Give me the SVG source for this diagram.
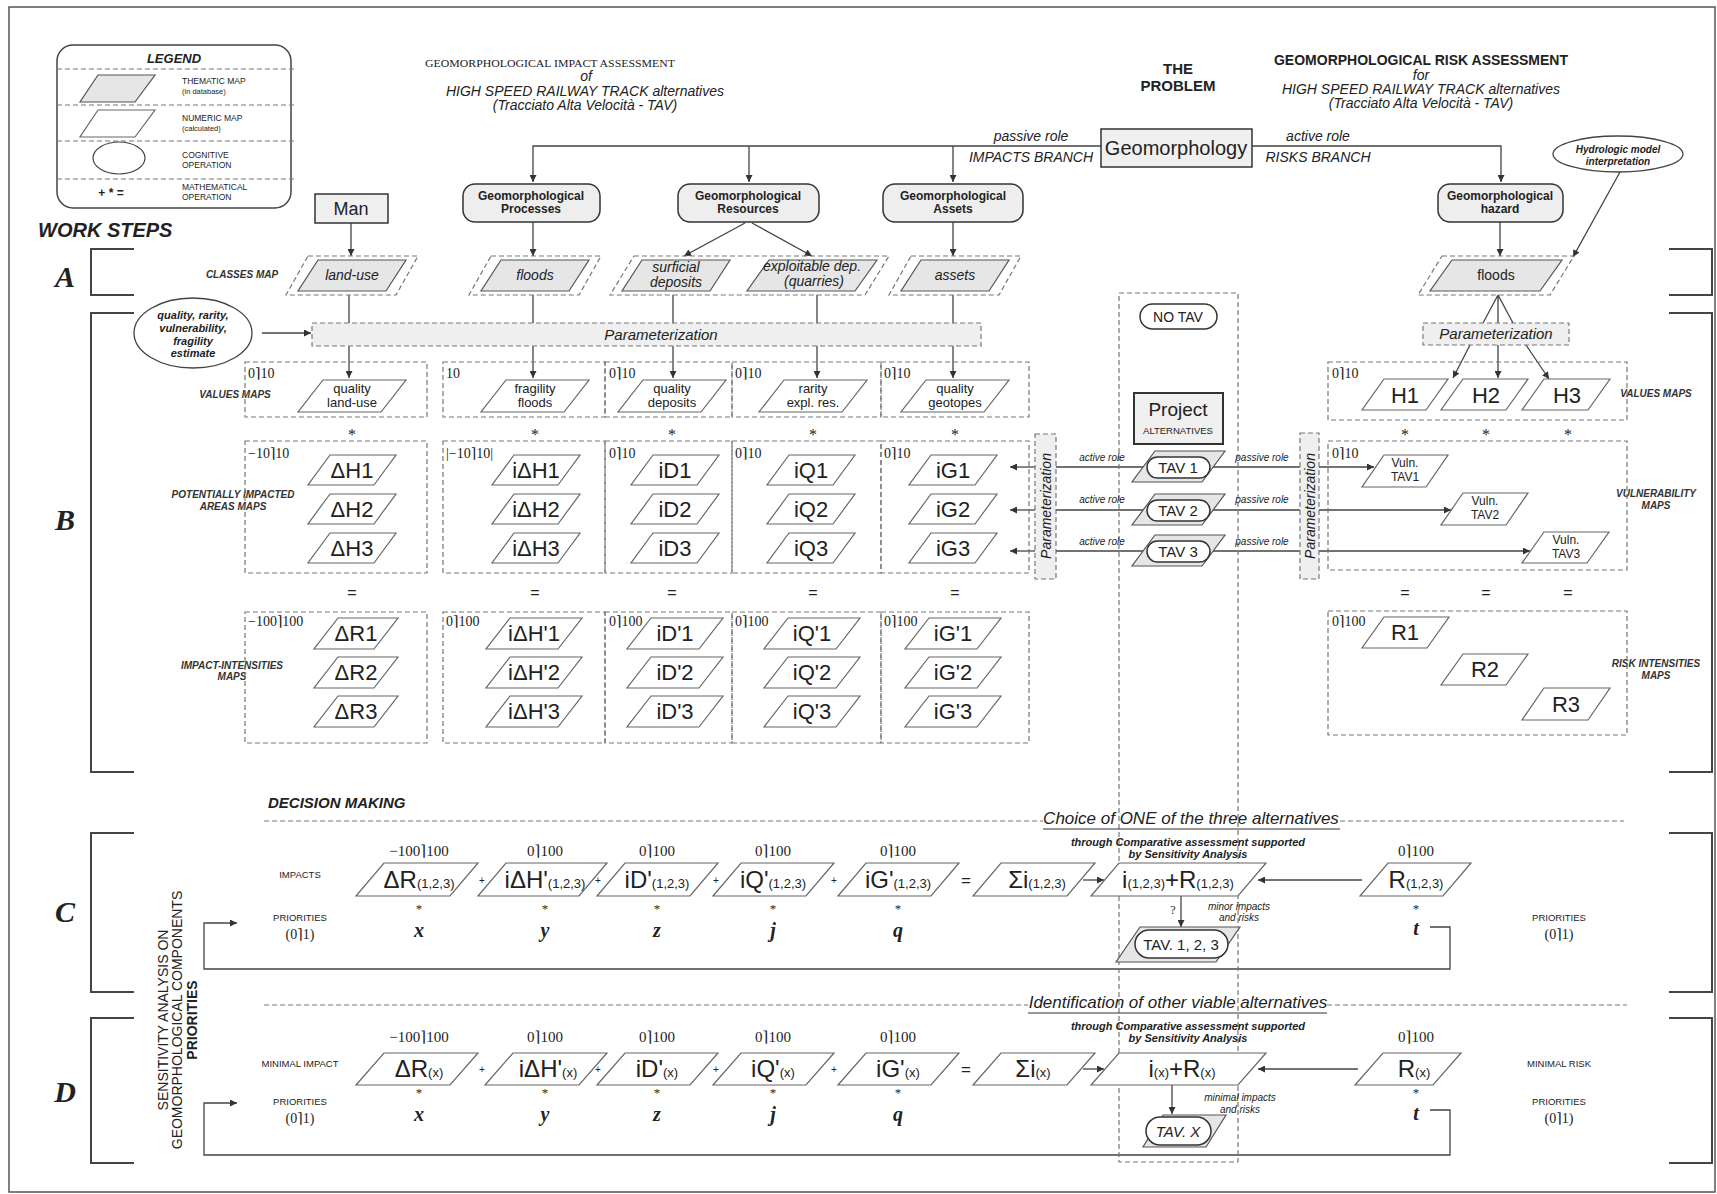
<svg xmlns="http://www.w3.org/2000/svg" width="1717" height="1194" viewBox="0 0 1717 1194">
<defs>
<style>
.s{font-family:"Liberation Sans",Arial,sans-serif;fill:#222}
.sf{font-family:"Liberation Serif","Times New Roman","DejaVu Serif",serif;fill:#222}
.i{font-style:italic}
.b{font-weight:bold}
.m{text-anchor:middle}
.pw{fill:#fff;stroke:#666;stroke-width:1.2}
.pg{fill:#e6e6e6;stroke:#555;stroke-width:1.2}
.dsh{fill:none;stroke:#777;stroke-width:1.2;stroke-dasharray:5 3}
.dshf{fill:#efefef;stroke:#777;stroke-width:1.2;stroke-dasharray:5 3}
.ln{fill:none;stroke:#444;stroke-width:1.3}
.br{fill:none;stroke:#444;stroke-width:2}
.nb{fill:#eeeeee;stroke:#333;stroke-width:1.5}
.lab{font-family:"Liberation Sans",Arial,sans-serif;font-weight:bold;font-style:italic;font-size:10px;fill:#333;text-anchor:middle}
.rng{font-family:"Liberation Serif","Times New Roman","DejaVu Serif",serif;font-size:14px;fill:#222}
.big{font-family:"Liberation Sans",Arial,sans-serif;font-size:22px;fill:#222;text-anchor:middle}
</style>
<marker id="a" viewBox="0 0 10 10" refX="10" refY="5" markerWidth="9" markerHeight="7" orient="auto" markerUnits="userSpaceOnUse"><path d="M0,0 L10,5 L0,10 z" fill="#333"/></marker>
</defs>
<rect x="0" y="0" width="1717" height="1194" fill="#fff"/>
<rect x="9" y="7" width="1706" height="1185" fill="none" stroke="#555" stroke-width="1.5"/>

<!-- Legend -->
<g id="legend">
<rect x="57" y="45" width="234" height="163" rx="16" fill="#fff" stroke="#444" stroke-width="1.5"/>
<text x="174" y="63" class="s b i m" font-size="13">LEGEND</text>
<path d="M57,69H295M57,105H295M57,141H295M57,179H295" class="dsh"/>
<polygon points="98,75 155,75 135,102 80,102" class="pg"/>
<text x="182" y="84" class="s" font-size="8.5">THEMATIC MAP</text>
<text x="182" y="94" class="s" font-size="7.5">(in database)</text>
<polygon points="98,110 155,110 135,137 80,137" class="pw"/>
<text x="182" y="121" class="s" font-size="8.5">NUMERIC MAP</text>
<text x="182" y="131" class="s" font-size="7.5">(calculated)</text>
<ellipse cx="119" cy="158" rx="26" ry="16" fill="#fff" stroke="#444" stroke-width="1.2"/>
<text x="182" y="158" class="s" font-size="8.5">COGNITIVE</text>
<text x="182" y="168" class="s" font-size="8.5">OPERATION</text>
<text x="111" y="197" class="s b m" font-size="12">+  *  =</text>
<text x="182" y="190" class="s" font-size="8.5">MATHEMATICAL</text>
<text x="182" y="200" class="s" font-size="8.5">OPERATION</text>
</g>

<!-- Titles -->
<g id="titles">
<text x="425" y="67" class="sf" font-size="11" textLength="250" lengthAdjust="spacingAndGlyphs">GEOMORPHOLOGICAL IMPACT ASSESSMENT</text>
<text x="586" y="81" class="s i m" font-size="14">of</text>
<text x="585" y="96" class="s i m" font-size="14">HIGH SPEED RAILWAY TRACK alternatives</text>
<text x="585" y="110" class="s i m" font-size="14">(Tracciato Alta Velocità - TAV)</text>
<text x="1178" y="74" class="s b m" font-size="15">THE</text>
<text x="1178" y="91" class="s b m" font-size="15">PROBLEM</text>
<text x="1421" y="65" class="s b m" font-size="14">GEOMORPHOLOGICAL RISK ASSESSMENT</text>
<text x="1421" y="80" class="s i m" font-size="14">for</text>
<text x="1421" y="94" class="s i m" font-size="14">HIGH SPEED RAILWAY TRACK alternatives</text>
<text x="1421" y="108" class="s i m" font-size="14">(Tracciato Alta Velocità - TAV)</text>
<text x="38" y="237" class="s b i" font-size="20">WORK STEPS</text>
<text x="242" y="278" class="lab">CLASSES MAP</text>
<text x="235" y="398" class="lab">VALUES MAPS</text>
<text x="233" y="498" class="lab">POTENTIALLY IMPACTED</text>
<text x="233" y="510" class="lab">AREAS MAPS</text>
<text x="232" y="669" class="lab">IMPACT-INTENSITIES</text>
<text x="232" y="680" class="lab">MAPS</text>
<text x="1656" y="397" class="lab">VALUES MAPS</text>
<text x="1656" y="497" class="lab">VULNERABILITY</text>
<text x="1656" y="509" class="lab">MAPS</text>
<text x="1656" y="667" class="lab">RISK INTENSITIES</text>
<text x="1656" y="679" class="lab">MAPS</text>
<text x="268" y="808" class="s b i" font-size="15">DECISION MAKING</text>
</g>

<!-- Step letters and brackets -->
<g id="steps">
<text x="65" y="287" class="sf b i m" font-size="30">A</text>
<text x="65" y="530" class="sf b i m" font-size="30">B</text>
<text x="65" y="922" class="sf b i m" font-size="30">C</text>
<text x="65" y="1102" class="sf b i m" font-size="30">D</text>
<path class="br" d="M134,249H91V295H134M134,313H91V772H134M134,833H91V992H134M134,1018H91V1163H134"/>
<path class="br" d="M1669,249H1712V295H1669M1669,313H1712V772H1669M1669,833H1712V992H1669M1669,1018H1712V1163H1669"/>
<text transform="translate(168,1020) rotate(-90)" class="s m" font-size="14">SENSITIVITY ANALYSIS ON</text>
<text transform="translate(182,1020) rotate(-90)" class="s m" font-size="14">GEOMORPHOLOGICAL COMPONENTS</text>
<text transform="translate(197,1020) rotate(-90)" class="s b m" font-size="14">PRIORITIES</text>
</g>

<!-- Connectors -->
<g id="connectors" class="ln">
<path d="M1101,146H533V182" marker-end="url(#a)"/>
<path d="M749,146V182" marker-end="url(#a)"/>
<path d="M953,146V182" marker-end="url(#a)"/>
<path d="M1252,146H1501V182" marker-end="url(#a)"/>
<path d="M351,223V256" marker-end="url(#a)"/>
<path d="M533,222V256" marker-end="url(#a)"/>
<path d="M745,223L684,256" marker-end="url(#a)"/>
<path d="M752,223L812,256" marker-end="url(#a)"/>
<path d="M953,222V256" marker-end="url(#a)"/>
<path d="M1500,222V256" marker-end="url(#a)"/>
<path d="M1620,172L1573,257" marker-end="url(#a)"/>
<path d="M349,295V323M533,295V323M673,295V323M817,295V323M953,295V323"/>
<path d="M349,346V378" marker-end="url(#a)"/>
<path d="M533,346V378" marker-end="url(#a)"/>
<path d="M673,346V378" marker-end="url(#a)"/>
<path d="M817,346V378" marker-end="url(#a)"/>
<path d="M953,346V378" marker-end="url(#a)"/>
<path d="M262,333H311" marker-end="url(#a)"/>
<path d="M1498,295L1483,323M1498,295V323M1498,295L1513,323"/>
<path d="M1470,345L1453,378" marker-end="url(#a)"/>
<path d="M1498,345V378" marker-end="url(#a)"/>
<path d="M1526,345L1549,379" marker-end="url(#a)"/>
<path d="M1147,467H1056M1147,510H1056M1147,551H1056"/>
<path d="M1035,467H1010" marker-end="url(#a)"/>
<path d="M1035,510H1010" marker-end="url(#a)"/>
<path d="M1035,551H1010" marker-end="url(#a)"/>
<path d="M1210,467H1300M1210,510H1300M1210,551H1300"/>
<path d="M1319,467H1374" marker-end="url(#a)"/>
<path d="M1319,510H1451" marker-end="url(#a)"/>
<path d="M1319,551H1530" marker-end="url(#a)"/>
<path d="M1083,880H1104" marker-end="url(#a)"/>
<path d="M1362,880H1258" marker-end="url(#a)"/>
<path d="M1181,896V927" marker-end="url(#a)"/>
<path d="M1430,927H1450V969H204V923H237" marker-end="url(#a)"/>
<path d="M1083,1069H1104" marker-end="url(#a)"/>
<path d="M1358,1069H1258" marker-end="url(#a)"/>
<path d="M1172,1085V1114" marker-end="url(#a)"/>
<path d="M1430,1110H1450V1155H204V1103H237" marker-end="url(#a)"/>
</g>

<!-- Top nodes -->
<g id="geomorphology"><rect x="1101" y="129" width="151" height="38" fill="#f0f0f0" stroke="#333" stroke-width="1.5"/><text x="1176" y="155" class="s m" font-size="20">Geomorphology</text></g>
<g id="branch-labels">
<text x="1031" y="141" class="s i m" font-size="14">passive role</text>
<text x="1031" y="162" class="s i m" font-size="14">IMPACTS BRANCH</text>
<text x="1318" y="141" class="s i m" font-size="14">active role</text>
<text x="1318" y="162" class="s i m" font-size="14">RISKS BRANCH</text>
</g>
<g id="man"><rect x="315" y="194" width="73" height="29" fill="#f0f0f0" stroke="#333" stroke-width="1.5"/><text x="351" y="215" class="s m" font-size="18">Man</text></g>
<g id="processes"><rect x="463" y="184" width="137" height="38" rx="12" class="nb"/><text x="531" y="200" class="s b m" font-size="12">Geomorphological</text><text x="531" y="213" class="s b m" font-size="12">Processes</text></g>
<g id="resources"><rect x="678" y="184" width="141" height="38" rx="12" class="nb"/><text x="748" y="200" class="s b m" font-size="12">Geomorphological</text><text x="748" y="213" class="s b m" font-size="12">Resources</text></g>
<g id="assets"><rect x="883" y="184" width="140" height="38" rx="12" class="nb"/><text x="953" y="200" class="s b m" font-size="12">Geomorphological</text><text x="953" y="213" class="s b m" font-size="12">Assets</text></g>
<g id="hazard"><rect x="1438" y="184" width="125" height="38" rx="12" class="nb"/><text x="1500" y="200" class="s b m" font-size="12">Geomorphological</text><text x="1500" y="213" class="s b m" font-size="12">hazard</text></g>
<g id="hydrologic"><ellipse cx="1618" cy="154" rx="65" ry="18" fill="#fff" stroke="#444" stroke-width="1.3"/><text x="1618" y="153" class="s b i m" font-size="10">Hydrologic model</text><text x="1618" y="165" class="s b i m" font-size="10">interpretation</text></g>

<!-- Classes maps -->
<g id="cm-landuse"><polygon points="308,256 418,256 396,295 286,295" class="dsh"/><polygon points="318,260 406,260 386,291 298,291" class="pg"/><text x="352" y="280" class="s i m" font-size="14">land-use</text></g>
<g id="cm-floods"><polygon points="491,256 601,256 579,295 469,295" class="dsh"/><polygon points="501,260 589,260 569,291 481,291" class="pg"/><text x="535" y="280" class="s i m" font-size="14">floods</text></g>
<g id="cm-deposits"><polygon points="634,256 889,256 865,295 610,295" class="dsh"/><polygon points="642,260 730,260 710,291 622,291" class="pg"/><text x="676" y="272" class="s i m" font-size="14">surficial</text><text x="676" y="287" class="s i m" font-size="14">deposits</text><polygon points="769,260 877,260 855,291 747,291" class="pg"/><text x="812" y="271" class="s i m" font-size="14">exploitable dep.</text><text x="814" y="286" class="s i m" font-size="14">(quarries)</text></g>
<g id="cm-assets"><polygon points="911,256 1021,256 999,295 889,295" class="dsh"/><polygon points="921,260 1009,260 989,291 901,291" class="pg"/><text x="955" y="280" class="s i m" font-size="14">assets</text></g>
<g id="cm-riskfloods"><polygon points="1442,256 1574,256 1550,295 1418,295" class="dsh"/><polygon points="1452,260 1562,260 1540,291 1430,291" class="pg"/><text x="1496" y="280" class="s m" font-size="14">floods</text></g>

<!-- Parameterization -->
<g id="estimate"><ellipse cx="193" cy="333" rx="59" ry="35" fill="#fff" stroke="#444" stroke-width="1.3"/><text x="193" y="319" class="s b i m" font-size="11">quality, rarity,</text><text x="193" y="332" class="s b i m" font-size="11">vulnerability,</text><text x="193" y="345" class="s b i m" font-size="11">fragility</text><text x="193" y="357" class="s b i m" font-size="11">estimate</text></g>
<g id="param-impacts"><rect x="312" y="323" width="669" height="23" class="dshf"/><text x="661" y="340" class="s i m" font-size="15">Parameterization</text></g>
<g id="param-risks"><rect x="1423" y="323" width="146" height="22" class="dshf"/><text x="1496" y="339" class="s i m" font-size="15">Parameterization</text></g>
<g id="param-active"><rect x="1035" y="434" width="21" height="145" class="dshf"/><text transform="translate(1051,506) rotate(-90)" class="s i m" font-size="14">Parameterization</text></g>
<g id="param-passive"><rect x="1300" y="433" width="19" height="146" class="dshf"/><text transform="translate(1315,506) rotate(-90)" class="s i m" font-size="14">Parameterization</text></g>

<!-- Impact side boxes -->
<g id="boxes" class="dsh">
<rect x="245" y="362" width="182" height="55"/><rect x="443" y="362" width="162" height="55"/><rect x="605" y="362" width="127" height="55"/><rect x="732" y="362" width="149" height="55"/><rect x="881" y="362" width="148" height="55"/>
<rect x="245" y="441" width="182" height="132"/><rect x="443" y="441" width="162" height="132"/><rect x="605" y="441" width="127" height="132"/><rect x="732" y="441" width="149" height="132"/><rect x="881" y="441" width="148" height="132"/>
<rect x="245" y="612" width="182" height="131"/><rect x="443" y="612" width="162" height="131"/><rect x="605" y="612" width="127" height="131"/><rect x="732" y="612" width="149" height="131"/><rect x="881" y="612" width="148" height="131"/>
<rect x="1328" y="362" width="299" height="58"/><rect x="1328" y="441" width="299" height="129"/><rect x="1328" y="611" width="299" height="124"/>
<rect x="1119" y="293" width="119" height="869"/>
</g>
<g id="ranges">
<text x="248" y="378" class="rng">0⌉10</text><text x="446" y="378" class="rng">10</text><text x="609" y="378" class="rng">0⌉10</text><text x="735" y="378" class="rng">0⌉10</text><text x="884" y="378" class="rng">0⌉10</text>
<text x="248" y="458" class="rng">−10⌉10</text><text x="446" y="458" class="rng">|−10⌉10|</text><text x="609" y="458" class="rng">0⌉10</text><text x="735" y="458" class="rng">0⌉10</text><text x="884" y="458" class="rng">0⌉10</text>
<text x="248" y="626" class="rng">−100⌉100</text><text x="446" y="626" class="rng">0⌉100</text><text x="609" y="626" class="rng">0⌉100</text><text x="735" y="626" class="rng">0⌉100</text><text x="884" y="626" class="rng">0⌉100</text>
<text x="1332" y="378" class="rng">0⌉10</text><text x="1332" y="458" class="rng">0⌉10</text><text x="1332" y="626" class="rng">0⌉100</text>
</g>
<g id="ops" class="sf m" font-size="16">
<text x="352" y="440" class="sf m">*</text><text x="535" y="440" class="sf m">*</text><text x="672" y="440" class="sf m">*</text><text x="813" y="440" class="sf m">*</text><text x="955" y="440" class="sf m">*</text>
<text x="1405" y="440" class="sf m">*</text><text x="1486" y="440" class="sf m">*</text><text x="1568" y="440" class="sf m">*</text>
<text x="352" y="598" class="s m">=</text><text x="535" y="598" class="s m">=</text><text x="672" y="598" class="s m">=</text><text x="813" y="598" class="s m">=</text><text x="955" y="598" class="s m">=</text>
<text x="1405" y="598" class="s m">=</text><text x="1486" y="598" class="s m">=</text><text x="1568" y="598" class="s m">=</text>
</g>

<!-- Values maps -->
<g id="v-landuse"><polygon points="323,380 406,380 381,412 298,412" class="pw"/><text x="352" y="393" class="s m" font-size="13">quality</text><text x="352" y="407" class="s m" font-size="13">land-use</text></g>
<g id="v-floods"><polygon points="506,380 589,380 564,412 481,412" class="pw"/><text x="535" y="393" class="s m" font-size="13">fragility</text><text x="535" y="407" class="s m" font-size="13">floods</text></g>
<g id="v-deposits"><polygon points="643,380 726,380 701,412 618,412" class="pw"/><text x="672" y="393" class="s m" font-size="13">quality</text><text x="672" y="407" class="s m" font-size="13">deposits</text></g>
<g id="v-rarity"><polygon points="784,380 867,380 842,412 759,412" class="pw"/><text x="813" y="393" class="s m" font-size="13">rarity</text><text x="813" y="407" class="s m" font-size="13">expl. res.</text></g>
<g id="v-geotopes"><polygon points="926,380 1009,380 984,412 901,412" class="pw"/><text x="955" y="393" class="s m" font-size="13">quality</text><text x="955" y="407" class="s m" font-size="13">geotopes</text></g>
<g id="v-H1"><polygon points="1384,379 1448,379 1426,410 1362,410" class="pw"/><text x="1405" y="403" class="big">H1</text></g>
<g id="v-H2"><polygon points="1463,379 1528,379 1506,410 1441,410" class="pw"/><text x="1486" y="403" class="big">H2</text></g>
<g id="v-H3"><polygon points="1544,379 1610,379 1588,410 1522,410" class="pw"/><text x="1567" y="403" class="big">H3</text></g>

<!-- Potentially impacted -->
<g id="pi-col1">
<polygon points="330,455 396,455 374,485 308,485" class="pw"/><text x="352" y="478" class="big">ΔH1</text>
<polygon points="330,494 396,494 374,524 308,524" class="pw"/><text x="352" y="517" class="big">ΔH2</text>
<polygon points="330,533 396,533 374,563 308,563" class="pw"/><text x="352" y="556" class="big">ΔH3</text>
</g>
<g id="pi-col2">
<polygon points="514,455 580,455 558,485 492,485" class="pw"/><text x="536" y="478" class="big">iΔH1</text>
<polygon points="514,494 580,494 558,524 492,524" class="pw"/><text x="536" y="517" class="big">iΔH2</text>
<polygon points="514,533 580,533 558,563 492,563" class="pw"/><text x="536" y="556" class="big">iΔH3</text>
</g>
<g id="pi-col3">
<polygon points="653,455 719,455 697,485 631,485" class="pw"/><text x="675" y="478" class="big">iD1</text>
<polygon points="653,494 719,494 697,524 631,524" class="pw"/><text x="675" y="517" class="big">iD2</text>
<polygon points="653,533 719,533 697,563 631,563" class="pw"/><text x="675" y="556" class="big">iD3</text>
</g>
<g id="pi-col4">
<polygon points="789,455 855,455 833,485 767,485" class="pw"/><text x="811" y="478" class="big">iQ1</text>
<polygon points="789,494 855,494 833,524 767,524" class="pw"/><text x="811" y="517" class="big">iQ2</text>
<polygon points="789,533 855,533 833,563 767,563" class="pw"/><text x="811" y="556" class="big">iQ3</text>
</g>
<g id="pi-col5">
<polygon points="931,455 997,455 975,485 909,485" class="pw"/><text x="953" y="478" class="big">iG1</text>
<polygon points="931,494 997,494 975,524 909,524" class="pw"/><text x="953" y="517" class="big">iG2</text>
<polygon points="931,533 997,533 975,563 909,563" class="pw"/><text x="953" y="556" class="big">iG3</text>
</g>

<!-- Vulnerability -->
<g id="vuln1"><polygon points="1384,455 1448,455 1426,487 1362,487" class="pw"/><text x="1405" y="467" class="s m" font-size="12">Vuln.</text><text x="1405" y="481" class="s m" font-size="12">TAV1</text></g>
<g id="vuln2"><polygon points="1463,493 1528,493 1506,525 1441,525" class="pw"/><text x="1485" y="505" class="s m" font-size="12">Vuln.</text><text x="1485" y="519" class="s m" font-size="12">TAV2</text></g>
<g id="vuln3"><polygon points="1544,532 1609,532 1587,563 1522,563" class="pw"/><text x="1566" y="544" class="s m" font-size="12">Vuln.</text><text x="1566" y="558" class="s m" font-size="12">TAV3</text></g>

<!-- Impact intensities -->
<g id="ii-col1">
<polygon points="338,618 398,618 374,649 314,649" class="pw"/><text x="356" y="641" class="big">ΔR1</text>
<polygon points="338,657 398,657 374,688 314,688" class="pw"/><text x="356" y="680" class="big">ΔR2</text>
<polygon points="338,696 398,696 374,727 314,727" class="pw"/><text x="356" y="719" class="big">ΔR3</text>
</g>
<g id="ii-col2">
<polygon points="510,618 582,618 558,649 486,649" class="pw"/><text x="534" y="641" class="big">iΔH'1</text>
<polygon points="510,657 582,657 558,688 486,688" class="pw"/><text x="534" y="680" class="big">iΔH'2</text>
<polygon points="510,696 582,696 558,727 486,727" class="pw"/><text x="534" y="719" class="big">iΔH'3</text>
</g>
<g id="ii-col3">
<polygon points="651,618 723,618 699,649 627,649" class="pw"/><text x="675" y="641" class="big">iD'1</text>
<polygon points="651,657 723,657 699,688 627,688" class="pw"/><text x="675" y="680" class="big">iD'2</text>
<polygon points="651,696 723,696 699,727 627,727" class="pw"/><text x="675" y="719" class="big">iD'3</text>
</g>
<g id="ii-col4">
<polygon points="788,618 860,618 836,649 764,649" class="pw"/><text x="812" y="641" class="big">iQ'1</text>
<polygon points="788,657 860,657 836,688 764,688" class="pw"/><text x="812" y="680" class="big">iQ'2</text>
<polygon points="788,696 860,696 836,727 764,727" class="pw"/><text x="812" y="719" class="big">iQ'3</text>
</g>
<g id="ii-col5">
<polygon points="929,618 1001,618 977,649 905,649" class="pw"/><text x="953" y="641" class="big">iG'1</text>
<polygon points="929,657 1001,657 977,688 905,688" class="pw"/><text x="953" y="680" class="big">iG'2</text>
<polygon points="929,696 1001,696 977,727 905,727" class="pw"/><text x="953" y="719" class="big">iG'3</text>
</g>
<g id="risk-int">
<polygon points="1384,617 1449,617 1427,648 1362,648" class="pw"/><text x="1405" y="640" class="big">R1</text>
<polygon points="1463,654 1528,654 1506,685 1441,685" class="pw"/><text x="1485" y="677" class="big">R2</text>
<polygon points="1544,688 1610,688 1588,720 1522,720" class="pw"/><text x="1566" y="712" class="big">R3</text>
</g>

<!-- Project alternatives -->
<g id="notav"><rect x="1140" y="304" width="77" height="25" rx="12.5" fill="#fff" stroke="#333" stroke-width="1.5"/><text x="1178" y="322" class="s m" font-size="14">NO TAV</text></g>
<g id="project"><rect x="1134" y="393" width="89" height="51" fill="#f0f0f0" stroke="#333" stroke-width="2"/><text x="1178" y="416" class="s m" font-size="19">Project</text><text x="1178" y="434" class="s m" font-size="9.5">ALTERNATIVES</text></g>
<g id="tav1"><polygon points="1155,451 1225,451 1202,482 1132,482" class="pg"/><rect x="1147" y="457" width="63" height="21" rx="10.5" fill="#fff" stroke="#333" stroke-width="1.5"/><text x="1178" y="473" class="s m" font-size="15">TAV 1</text></g>
<g id="tav2"><polygon points="1155,494 1225,494 1202,525 1132,525" class="pg"/><rect x="1147" y="500" width="63" height="21" rx="10.5" fill="#fff" stroke="#333" stroke-width="1.5"/><text x="1178" y="516" class="s m" font-size="15">TAV 2</text></g>
<g id="tav3"><polygon points="1155,535 1225,535 1202,566 1132,566" class="pg"/><rect x="1147" y="541" width="63" height="21" rx="10.5" fill="#fff" stroke="#333" stroke-width="1.5"/><text x="1178" y="557" class="s m" font-size="15">TAV 3</text></g>
<g id="role-labels">
<text x="1102" y="461" class="s i m" font-size="10">active role</text><text x="1102" y="503" class="s i m" font-size="10">active role</text><text x="1102" y="545" class="s i m" font-size="10">active role</text>
<text x="1262" y="461" class="s i m" font-size="10">passive role</text><text x="1262" y="503" class="s i m" font-size="10">passive role</text><text x="1262" y="545" class="s i m" font-size="10">passive role</text>
</g>

<!-- Decision making C -->
<g id="choice">
<path d="M264,821H1043M1340,821H1624" class="dsh"/>
<text x="1191" y="824" class="s i m" font-size="17">Choice of ONE of the three alternatives</text>
<path d="M1043,829H1340" stroke="#333" stroke-width="1.2"/>
<text x="1188" y="846" class="s b i m" font-size="11">through Comparative assessment supported</text>
<text x="1188" y="858" class="s b i m" font-size="11">by Sensitivity Analysis</text>
</g>
<g id="c-labels">
<text x="300" y="878" class="s m" font-size="9.5">IMPACTS</text>
<text x="300" y="921" class="s m" font-size="9.5">PRIORITIES</text><text x="300" y="939" class="sf m" font-size="14">(0⌉1)</text>
<text x="1559" y="921" class="s m" font-size="9.5">PRIORITIES</text><text x="1559" y="939" class="sf m" font-size="14">(0⌉1)</text>
<text x="419" y="856" class="sf m" font-size="15">−100⌉100</text><text x="545" y="856" class="sf m" font-size="15">0⌉100</text><text x="657" y="856" class="sf m" font-size="15">0⌉100</text><text x="773" y="856" class="sf m" font-size="15">0⌉100</text><text x="898" y="856" class="sf m" font-size="15">0⌉100</text><text x="1416" y="856" class="sf m" font-size="15">0⌉100</text>
<text x="419" y="913" class="sf m" font-size="13">*</text><text x="545" y="913" class="sf m" font-size="13">*</text><text x="657" y="913" class="sf m" font-size="13">*</text><text x="773" y="913" class="sf m" font-size="13">*</text><text x="898" y="913" class="sf m" font-size="13">*</text><text x="1416" y="913" class="sf m" font-size="13">*</text>
<text x="419" y="937" class="sf b i m" font-size="20">x</text><text x="545" y="937" class="sf b i m" font-size="20">y</text><text x="657" y="937" class="sf b i m" font-size="20">z</text><text x="773" y="937" class="sf b i m" font-size="20">j</text><text x="898" y="937" class="sf b i m" font-size="20">q</text><text x="1416" y="935" class="sf b i m" font-size="20">t</text>
<text x="482" y="884" class="s m" font-size="10">+</text><text x="598" y="884" class="s m" font-size="10">+</text><text x="716" y="884" class="s m" font-size="10">+</text><text x="834" y="884" class="s m" font-size="10">+</text><text x="966" y="886" class="s m" font-size="17">=</text>
<text x="1173" y="914" class="sf m" font-size="12">?</text>
<text x="1239" y="910" class="s i m" font-size="10">minor impacts</text><text x="1239" y="921" class="s i m" font-size="10">and risks</text>
</g>
<g id="c-dR"><polygon points="384,863 478,863 450,896 356,896" class="pw"/><text x="419" y="888" class="s m" font-size="24">ΔR<tspan font-size="13">(1,2,3)</tspan></text></g>
<g id="c-iDH"><polygon points="506,863 607,863 579,896 478,896" class="pw"/><text x="545" y="888" class="s m" font-size="24">iΔH'<tspan font-size="13">(1,2,3)</tspan></text></g>
<g id="c-iD"><polygon points="625,863 718,863 690,896 597,896" class="pw"/><text x="657" y="888" class="s m" font-size="24">iD'<tspan font-size="13">(1,2,3)</tspan></text></g>
<g id="c-iQ"><polygon points="741,863 834,863 806,896 713,896" class="pw"/><text x="773" y="888" class="s m" font-size="24">iQ'<tspan font-size="13">(1,2,3)</tspan></text></g>
<g id="c-iG"><polygon points="866,863 959,863 931,896 838,896" class="pw"/><text x="898" y="888" class="s m" font-size="24">iG'<tspan font-size="13">(1,2,3)</tspan></text></g>
<g id="c-sum"><polygon points="1001,863 1095,863 1067,896 973,896" class="pw"/><text x="1037" y="888" class="s m" font-size="24">Σi<tspan font-size="13">(1,2,3)</tspan></text></g>
<g id="c-iR"><polygon points="1119,863 1266,863 1238,896 1091,896" class="pw"/><text x="1178" y="888" class="s m" font-size="24">i<tspan font-size="13">(1,2,3)</tspan>+R<tspan font-size="13">(1,2,3)</tspan></text></g>
<g id="c-R"><polygon points="1388,863 1471,863 1443,896 1360,896" class="pw"/><text x="1416" y="888" class="s m" font-size="24">R<tspan font-size="13">(1,2,3)</tspan></text></g>
<g id="c-tav"><polygon points="1140,927 1240,927 1216,962 1116,962" class="pg"/><rect x="1135" y="930" width="93" height="28" rx="14" fill="#fff" stroke="#333" stroke-width="1.5"/><text x="1181" y="950" class="s m" font-size="15">TAV. 1, 2, 3</text></g>

<!-- Decision making D -->
<g id="identification">
<path d="M264,1005H1028M1327,1005H1627" class="dsh"/>
<text x="1178" y="1008" class="s i m" font-size="17">Identification of other viable alternatives</text>
<path d="M1028,1013H1327" stroke="#333" stroke-width="1.2"/>
<text x="1188" y="1030" class="s b i m" font-size="11">through Comparative assessment supported</text>
<text x="1188" y="1042" class="s b i m" font-size="11">by Sensitivity Analysis</text>
</g>
<g id="d-labels">
<text x="300" y="1067" class="s m" font-size="9.5">MINIMAL IMPACT</text>
<text x="300" y="1105" class="s m" font-size="9.5">PRIORITIES</text><text x="300" y="1123" class="sf m" font-size="14">(0⌉1)</text>
<text x="1559" y="1067" class="s m" font-size="9.5">MINIMAL RISK</text>
<text x="1559" y="1105" class="s m" font-size="9.5">PRIORITIES</text><text x="1559" y="1123" class="sf m" font-size="14">(0⌉1)</text>
<text x="419" y="1042" class="sf m" font-size="15">−100⌉100</text><text x="545" y="1042" class="sf m" font-size="15">0⌉100</text><text x="657" y="1042" class="sf m" font-size="15">0⌉100</text><text x="773" y="1042" class="sf m" font-size="15">0⌉100</text><text x="898" y="1042" class="sf m" font-size="15">0⌉100</text><text x="1416" y="1042" class="sf m" font-size="15">0⌉100</text>
<text x="419" y="1097" class="sf m" font-size="13">*</text><text x="545" y="1097" class="sf m" font-size="13">*</text><text x="657" y="1097" class="sf m" font-size="13">*</text><text x="773" y="1097" class="sf m" font-size="13">*</text><text x="898" y="1097" class="sf m" font-size="13">*</text><text x="1416" y="1097" class="sf m" font-size="13">*</text>
<text x="419" y="1121" class="sf b i m" font-size="20">x</text><text x="545" y="1121" class="sf b i m" font-size="20">y</text><text x="657" y="1121" class="sf b i m" font-size="20">z</text><text x="773" y="1121" class="sf b i m" font-size="20">j</text><text x="898" y="1121" class="sf b i m" font-size="20">q</text><text x="1416" y="1120" class="sf b i m" font-size="20">t</text>
<text x="482" y="1073" class="s m" font-size="10">+</text><text x="598" y="1073" class="s m" font-size="10">+</text><text x="716" y="1073" class="s m" font-size="10">+</text><text x="834" y="1073" class="s m" font-size="10">+</text><text x="966" y="1075" class="s m" font-size="17">=</text>
<text x="1240" y="1101" class="s i m" font-size="10">minimal impacts</text><text x="1240" y="1113" class="s i m" font-size="10">and risks</text>
</g>
<g id="d-dR"><polygon points="384,1053 478,1053 450,1085 356,1085" class="pw"/><text x="419" y="1077" class="s m" font-size="24">ΔR<tspan font-size="13">(x)</tspan></text></g>
<g id="d-iDH"><polygon points="513,1053 607,1053 579,1085 485,1085" class="pw"/><text x="548" y="1077" class="s m" font-size="24">iΔH'<tspan font-size="13">(x)</tspan></text></g>
<g id="d-iD"><polygon points="625,1053 718,1053 690,1085 597,1085" class="pw"/><text x="657" y="1077" class="s m" font-size="24">iD'<tspan font-size="13">(x)</tspan></text></g>
<g id="d-iQ"><polygon points="741,1053 834,1053 806,1085 713,1085" class="pw"/><text x="773" y="1077" class="s m" font-size="24">iQ'<tspan font-size="13">(x)</tspan></text></g>
<g id="d-iG"><polygon points="866,1053 959,1053 931,1085 838,1085" class="pw"/><text x="898" y="1077" class="s m" font-size="24">iG'<tspan font-size="13">(x)</tspan></text></g>
<g id="d-sum"><polygon points="1001,1053 1095,1053 1067,1085 973,1085" class="pw"/><text x="1033" y="1077" class="s m" font-size="24">Σi<tspan font-size="13">(x)</tspan></text></g>
<g id="d-iR"><polygon points="1119,1053 1266,1053 1238,1085 1091,1085" class="pw"/><text x="1182" y="1077" class="s m" font-size="24">i<tspan font-size="13">(x)</tspan>+R<tspan font-size="13">(x)</tspan></text></g>
<g id="d-R"><polygon points="1383,1053 1461,1053 1433,1085 1355,1085" class="pw"/><text x="1414" y="1077" class="s m" font-size="24">R<tspan font-size="13">(x)</tspan></text></g>
<g id="d-tav"><polygon points="1163,1115 1226,1115 1206,1147 1143,1147" class="pg"/><rect x="1146" y="1117" width="65" height="28" rx="14" fill="#fff" stroke="#333" stroke-width="1.5"/><text x="1178" y="1137" class="s i m" font-size="15">TAV. X</text></g>
</svg>
